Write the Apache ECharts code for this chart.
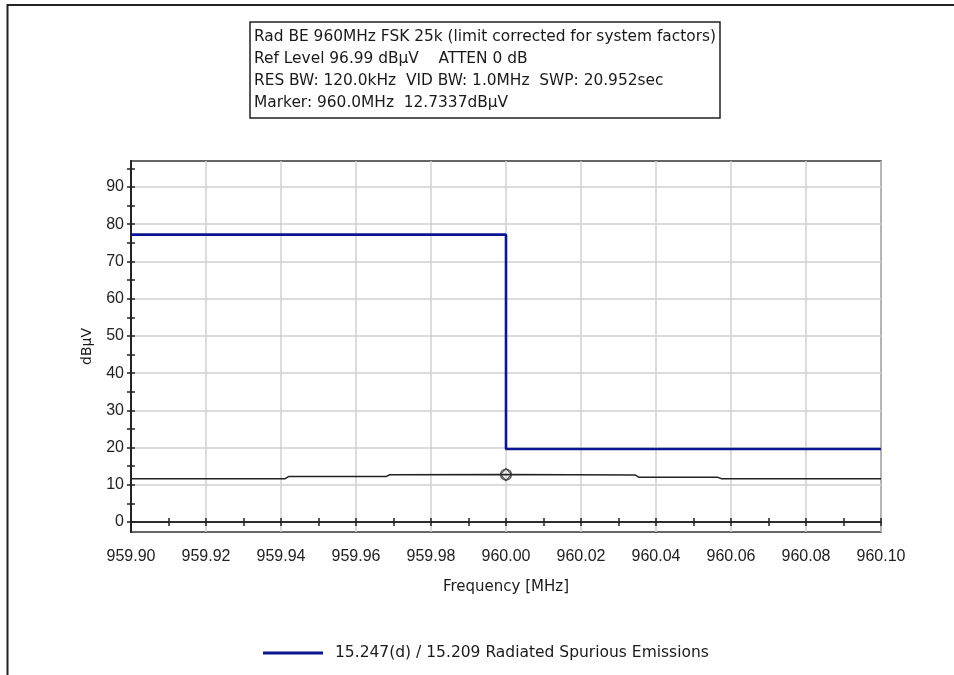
<!DOCTYPE html>
<html>
<head>
<meta charset="utf-8">
<script src="https://cdn.jsdelivr.net/npm/echarts@6/dist/echarts.min.js"></script>
<style>html,body{margin:0;padding:0;background:#fff;}#c{width:954px;height:675px;}</style>
</head>
<body>
<div id="c"></div>
<script>
// ---- data ----
var headerLines = [
  'Rad BE 960MHz FSK 25k (limit corrected for system factors)',
  'Ref Level 96.99 dB\u00b5V    ATTEN 0 dB',
  'RES BW: 120.0kHz  VID BW: 1.0MHz  SWP: 20.952sec',
  'Marker: 960.0MHz  12.7337dB\u00b5V'
];
var limitName = '15.247(d) / 15.209 Radiated Spurious Emissions';
var limitFreq = [959.90, 960.00, 960.00, 960.10];
var limitLevel = [77.2, 77.2, 19.6, 19.6];
var traceFreq = [959.900, 959.9410, 959.9420, 959.9680, 959.9690, 960.000, 960.0345, 960.0355, 960.0565, 960.0575, 960.100];
var traceLevel = [11.6, 11.6, 12.2, 12.2, 12.7, 12.73, 12.6, 12.0, 12.0, 11.6, 11.6];
var markerFreq = [960.00];
var markerLevel = [12.7337];
var xMin = 959.90, xMax = 960.10, xStep = 0.02;
var yMin = -2.69, yMax = 96.99;
var yLabels = [0, 10, 20, 30, 40, 50, 60, 70, 80, 90];
var yTicks = [0, 5, 10, 15, 20, 25, 30, 35, 40, 45, 50, 55, 60, 65, 70, 75, 80, 85, 90, 95];

function pairs(a, b) { return a.map(function (v, i) { return [v, b[i]]; }); }

var FONT = 'Liberation Sans, Arial, sans-serif';
var WIDE = 'DejaVu Sans, Verdana, sans-serif';
var chart = echarts.init(document.getElementById('c'), null, { renderer: 'canvas' });

var tickLine = { color: '#222', width: 1.5 };
var xBase = {
  type: 'value', min: xMin, max: xMax, interval: xStep,
  axisLine: { onZero: true, lineStyle: { color: '#222', width: 1.5 } },
  splitLine: { show: false }
};
var yBase = {
  type: 'value', min: yMin, max: yMax, position: 'left',
  axisLine: { show: true, lineStyle: { color: '#222', width: 1.5 } },
  splitLine: { show: false }, axisLabel: { show: false }
};

chart.setOption({
  animation: false,
  backgroundColor: '#fff',
  title: {
    text: headerLines.join('\n'),
    left: 250, top: 22,
    padding: [4, 4, 4, 4],
    borderColor: '#222', borderWidth: 1.5,
    textStyle: { fontFamily: WIDE, fontSize: 15.4, fontWeight: 'normal', color: '#1a1a1a', lineHeight: 22 }
  },
  legend: {
    data: [limitName],
    left: 263, top: 645, padding: 0,
    icon: 'rect', itemWidth: 60, itemHeight: 3, itemGap: 10,
    textStyle: { fontFamily: WIDE, fontSize: 15.5, color: '#1a1a1a', padding: [0, 0, 0, 7] }
  },
  grid: {
    left: 131, top: 161, right: 73, bottom: 143,
    show: true, borderColor: '#333', borderWidth: 1.5, backgroundColor: 'transparent'
  },
  xAxis: [
    Object.assign({}, xBase, {
      name: 'Frequency [MHz]', nameLocation: 'middle', nameGap: 48,
      nameTextStyle: { fontFamily: WIDE, fontSize: 15, color: '#1a1a1a' },
      axisTick: { show: true, inside: true, length: 4, lineStyle: tickLine },
      minorTick: { show: true, splitNumber: 2, length: 4, lineStyle: tickLine },
      axisLabel: { margin: 17, fontFamily: FONT, fontSize: 16, color: '#222',
        formatter: function (v) { return v.toFixed(2); } },
      splitLine: { show: true, lineStyle: { color: '#d0d0d0', width: 1.5 } }
    }),
    Object.assign({}, xBase, {
      position: 'bottom',
      axisTick: { show: true, inside: false, length: 4, lineStyle: tickLine },
      minorTick: { show: true, splitNumber: 2, length: 4, lineStyle: tickLine },
      axisLabel: { show: false }
    })
  ],
  yAxis: [
    Object.assign({}, yBase, {
      name: 'dB\u00b5V', nameLocation: 'middle', nameGap: 37,
      nameTextStyle: { fontFamily: WIDE, fontSize: 14, color: '#1a1a1a' },
      axisTick: { show: true, inside: false, length: 4, customValues: yLabels, lineStyle: tickLine },
      axisLabel: { show: true, margin: 7, fontFamily: FONT, fontSize: 16, color: '#222', customValues: yLabels },
      splitLine: { show: true, lineStyle: { color: '#d0d0d0', width: 1.5 } }
    }),
    Object.assign({}, yBase, {
      axisTick: { show: true, inside: true, length: 4, customValues: yTicks, lineStyle: tickLine }
    }),
    Object.assign({}, yBase, {
      axisTick: { show: true, inside: false, length: 4, customValues: yTicks, lineStyle: tickLine }
    })
  ],
  series: [
    {
      name: 'trace', type: 'line', data: pairs(traceFreq, traceLevel),
      showSymbol: false, symbol: 'none', lineStyle: { color: '#222', width: 1.5 },
      itemStyle: { color: '#222' }, z: 3, silent: true
    },
    {
      name: 'marker', type: 'scatter', data: pairs(markerFreq, markerLevel),
      symbol: 'circle', symbolSize: 11,
      itemStyle: { color: 'rgba(255,255,255,0)', borderColor: '#333', borderWidth: 1.3 }, z: 4, silent: true
    },
    {
      name: 'marker2', type: 'scatter', data: pairs(markerFreq, markerLevel),
      symbol: 'diamond', symbolSize: [11, 12],
      itemStyle: { color: 'rgba(255,255,255,0)', borderColor: '#333', borderWidth: 1.3 }, z: 4, silent: true
    },
    {
      name: limitName, type: 'line', data: pairs(limitFreq, limitLevel),
      showSymbol: false, symbol: 'none', lineStyle: { color: '#0a1494', width: 2.6 },
      itemStyle: { color: '#0a1494' }, z: 5
    }
  ],
  graphic: [
    { type: 'polyline', silent: true, shape: { points: [[7.5, 675], [7.5, 5], [954, 5]] },
      style: { stroke: '#222', lineWidth: 2, fill: null } }
  ]
});
</script>
</body>
</html>
